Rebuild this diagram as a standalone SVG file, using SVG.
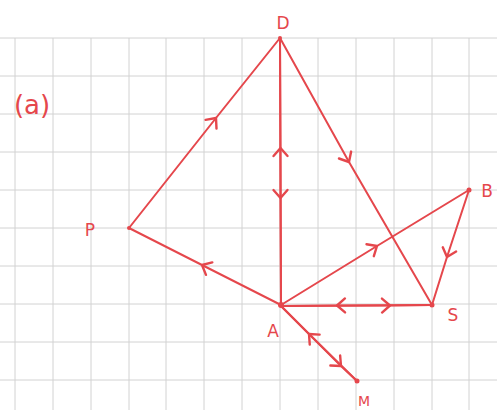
<svg xmlns="http://www.w3.org/2000/svg" width="497" height="410" viewBox="0 0 497 410">
<style>
.grid line{stroke:#d2d2d2;stroke-width:1}
.edge{stroke:#e5474c;stroke-width:2;fill:none;stroke-linecap:round}
.lbl{fill:#e5474c;font-family:"DejaVu Sans",sans-serif;font-size:17px;text-anchor:middle}
.dot{fill:#e5474c}
</style>
<defs>
<marker id="chev" markerUnits="userSpaceOnUse" viewBox="-10 -10 20 20" markerWidth="20" markerHeight="20" refX="0" refY="0" orient="auto">
<path d="M-8,-7 L0,0 L-8,7" fill="none" stroke="#e5474c" stroke-width="2.4" stroke-linecap="round" stroke-linejoin="round"/>
</marker>
</defs>
<rect width="497" height="410" fill="#fff"/>
<g class="grid">
<line x1="0" y1="38" x2="497" y2="38"/>
<line x1="0" y1="76" x2="497" y2="76"/>
<line x1="0" y1="114" x2="497" y2="114"/>
<line x1="0" y1="152" x2="497" y2="152"/>
<line x1="0" y1="190" x2="497" y2="190"/>
<line x1="0" y1="228" x2="497" y2="228"/>
<line x1="0" y1="266" x2="497" y2="266"/>
<line x1="0" y1="304" x2="497" y2="304"/>
<line x1="0" y1="342" x2="497" y2="342"/>
<line x1="0" y1="380" x2="497" y2="380"/>
<line x1="15" y1="38" x2="15" y2="410"/>
<line x1="53" y1="38" x2="53" y2="410"/>
<line x1="91" y1="38" x2="91" y2="410"/>
<line x1="129" y1="38" x2="129" y2="410"/>
<line x1="166" y1="38" x2="166" y2="410"/>
<line x1="204" y1="38" x2="204" y2="410"/>
<line x1="242" y1="38" x2="242" y2="410"/>
<line x1="280" y1="38" x2="280" y2="410"/>
<line x1="318" y1="38" x2="318" y2="410"/>
<line x1="356" y1="38" x2="356" y2="410"/>
<line x1="394" y1="38" x2="394" y2="410"/>
<line x1="432" y1="38" x2="432" y2="410"/>
<line x1="469" y1="38" x2="469" y2="410"/>
</g>
<text class="lbl" x="32" y="114" style="font-size:26px">(a)</text>
<g id="connectors">
<path class="edge" marker-mid="url(#chev)" d="M129,228 L216,118 L280,38"/>
<path class="edge" marker-mid="url(#chev)" d="M281,305 L280.5,148 L280,38"/>
<path class="edge" marker-mid="url(#chev)" d="M280,38 L280.5,198 L281,305"/>
<path class="edge" marker-mid="url(#chev)" d="M280,38 L349,162 L432,305"/>
<path class="edge" marker-mid="url(#chev)" d="M281,305 L202,265 L129,228"/>
<path class="edge" marker-mid="url(#chev)" d="M281,305 L377,246 L469,190"/>
<path class="edge" marker-mid="url(#chev)" d="M469,190 L447,257 L432,305"/>
<path class="edge" marker-mid="url(#chev)" d="M432,305 L337,305.5 L281,306"/>
<path class="edge" marker-mid="url(#chev)" d="M281,306 L390,305.5 L432,305"/>
<path class="edge" marker-mid="url(#chev)" d="M357,381 L309,334 L281,306"/>
<path class="edge" marker-mid="url(#chev)" d="M281,306 L341,366 L357,381"/>
</g>
<g id="node-D"><circle class="dot" cx="280" cy="38" r="2"/><text class="lbl" x="283" y="29">D</text></g>
<g id="node-P"><circle class="dot" cx="129" cy="228" r="2"/><text class="lbl" x="90" y="236">P</text></g>
<g id="node-A"><circle class="dot" cx="281" cy="305" r="3"/><text class="lbl" x="273" y="337">A</text></g>
<g id="node-S"><circle class="dot" cx="432" cy="305" r="2.5"/><text class="lbl" x="453" y="321">S</text></g>
<g id="node-B"><circle class="dot" cx="469" cy="190" r="2.5"/><text class="lbl" x="487" y="197">B</text></g>
<g id="node-M"><circle class="dot" cx="357" cy="381" r="2.5"/><text class="lbl" x="364" y="406" style="font-size:14px">M</text></g>
</svg>
